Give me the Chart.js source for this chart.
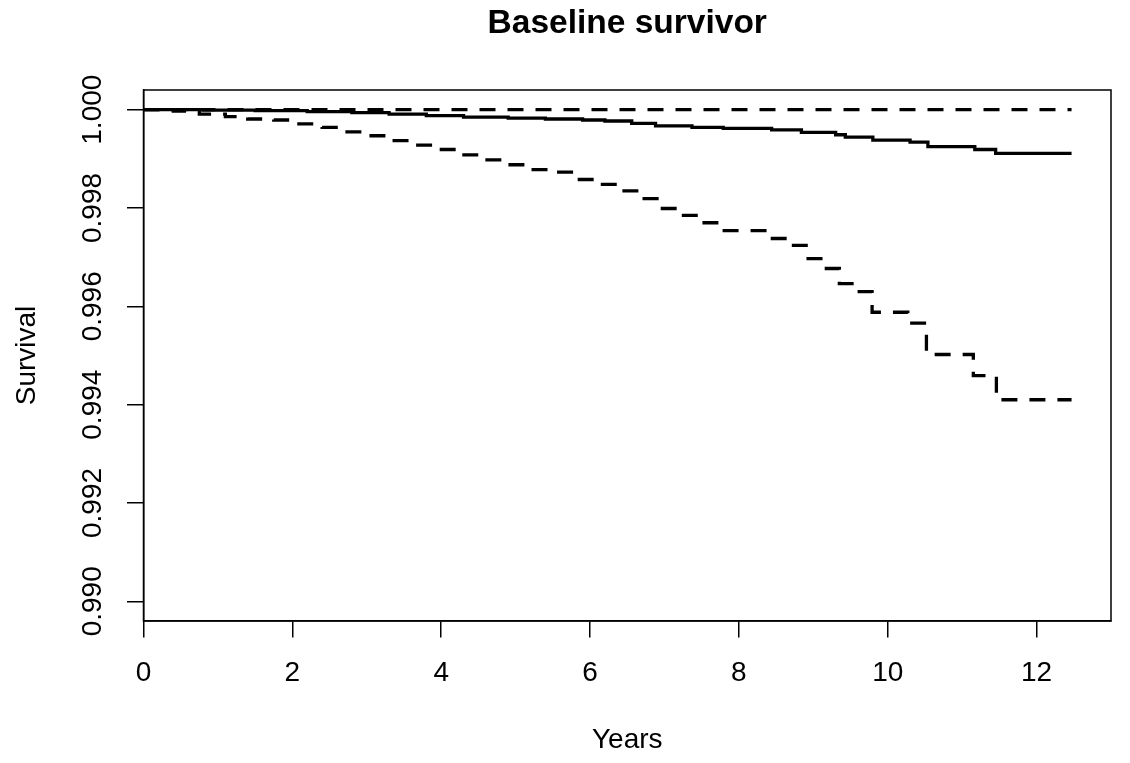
<!DOCTYPE html>
<html>
<head>
<meta charset="utf-8">
<title>Baseline survivor</title>
<script src="https://cdn.jsdelivr.net/npm/chart.js@4.4.1/dist/chart.umd.min.js"></script>
<style>
  html, body { margin: 0; padding: 0; background: #fff; }
  #survChart { display: block; }
</style>
</head>
<body>
<canvas id="survChart" width="1130" height="763"></canvas>
<script>
// survival estimate (solid)
const survTimes = [0, 0.8, 1.5, 2.2, 2.8, 3.3, 3.8, 4.3, 4.9, 5.4, 5.9, 6.2, 6.56, 6.88, 7.37, 7.79, 8.44, 8.84, 9.30, 9.43, 9.80, 10.30, 10.54, 11.17, 11.45, 12.47];
const survValues = [1.0, 0.99999, 0.99998, 0.99996, 0.99994, 0.99991, 0.99988, 0.99985, 0.99983, 0.99981, 0.99979, 0.99977, 0.99972, 0.99967, 0.99964, 0.99962, 0.99959, 0.99954, 0.99949, 0.99944, 0.99938, 0.99934, 0.99925, 0.99919, 0.99911, 0.99911];

// lower confidence band (dashed)
const lowerTimes = [0, 0.4, 0.75, 1.1, 1.4, 1.75, 2.05, 2.4, 2.7, 3.0, 3.3, 3.65, 3.95, 4.25, 4.55, 4.85, 5.2, 5.5, 5.75, 6.1, 6.4, 6.65, 6.9, 7.2, 7.5, 7.73, 8.4, 8.68, 8.93, 9.15, 9.35, 9.52, 9.79, 10.27, 10.52, 11.15, 11.46, 12.47];
const lowerValues = [1.0, 0.99997, 0.99991, 0.99986, 0.99981, 0.99979, 0.99971, 0.99964, 0.99955, 0.99947, 0.99937, 0.99928, 0.99919, 0.99908, 0.99898, 0.99888, 0.99878, 0.99873, 0.99858, 0.99848, 0.99835, 0.99819, 0.99799, 0.99785, 0.99770, 0.99754, 0.99738, 0.99724, 0.99697, 0.99677, 0.99646, 0.99630, 0.99588, 0.99566, 0.99502, 0.99459, 0.99410, 0.99410];

// upper confidence band (dashed, capped at 1)
const upperTimes = [0, 12.47];
const upperValues = [1.0, 1.0];

const xTicks = [0, 2, 4, 6, 8, 10, 12];
const yTicks = [0.990, 0.992, 0.994, 0.996, 0.998, 1.000];

function toPoints(times, values) {
  return times.map((t, i) => ({ x: t, y: values[i] }));
}

Chart.defaults.font.family = "'Liberation Sans', Arial, sans-serif";
Chart.defaults.color = "#000";

// R style box round the plot region
const plotBox = {
  id: "plotBox",
  afterDraw(chart) {
    const { ctx, chartArea } = chart;
    ctx.save();
    ctx.strokeStyle = "#000";
    ctx.lineWidth = 1.5;
    ctx.strokeRect(chartArea.left, chartArea.top, chartArea.right - chartArea.left, chartArea.bottom - chartArea.top);
    ctx.restore();
  }
};

const lineStyle = {
  borderColor: "#000",
  borderWidth: 3.3,
  pointRadius: 0,
  stepped: "before",
  tension: 0,
  fill: false
};

const ctx = document.getElementById("survChart").getContext("2d");

new Chart(ctx, {
  type: "line",
  data: {
    datasets: [
      { ...lineStyle, label: "upper", data: toPoints(upperTimes, upperValues), borderDash: [16, 12] },
      { ...lineStyle, label: "survival", data: toPoints(survTimes, survValues) },
      { ...lineStyle, label: "lower", data: toPoints(lowerTimes, lowerValues), borderDash: [16, 12] }
    ]
  },
  options: {
    responsive: false,
    animation: false,
    layout: { padding: { left: 0, right: 19, top: 0, bottom: 0 } },
    plugins: {
      legend: { display: false },
      tooltip: { enabled: false },
      title: {
        display: true,
        fullSize: false,
        text: "Baseline survivor",
        color: "#000",
        font: { size: 33.5, weight: "bold" },
        padding: { top: 4, bottom: 45.8 }
      }
    },
    scales: {
      x: {
        type: "linear",
        min: 0,
        max: 13,
        afterBuildTicks: scale => { scale.ticks = xTicks.map(v => ({ value: v })); },
        afterFit: scale => { scale.height = 142; },
        grid: { drawOnChartArea: false, color: "#000", lineWidth: 1.5, tickLength: 16.5 },
        border: { color: "#000", width: 1.5 },
        ticks: { color: "#000", font: { size: 28 }, padding: 18.7, maxRotation: 0, autoSkip: false, callback: v => String(v) },
        title: { display: true, text: "Years", color: "#000", font: { size: 28 }, padding: { bottom: 6.2 } }
      },
      y: {
        type: "linear",
        min: 0.9896,
        max: 1.0004,
        afterBuildTicks: scale => { scale.ticks = yTicks.map(v => ({ value: v })); },
        afterFit: scale => { scale.width = 143.5; },
        grid: { drawOnChartArea: false, color: "#000", lineWidth: 1.5, tickLength: 16.5 },
        border: { color: "#000", width: 1.5 },
        ticks: { color: "#000", font: { size: 28 }, minRotation: 90, maxRotation: 90, crossAlign: "center", padding: -1.5, callback: v => v.toFixed(3) },
        title: { display: true, text: "Survival", color: "#000", font: { size: 28 }, padding: { top: 10 } }
      }
    }
  },
  plugins: [plotBox]
});
</script>
</body>
</html>
